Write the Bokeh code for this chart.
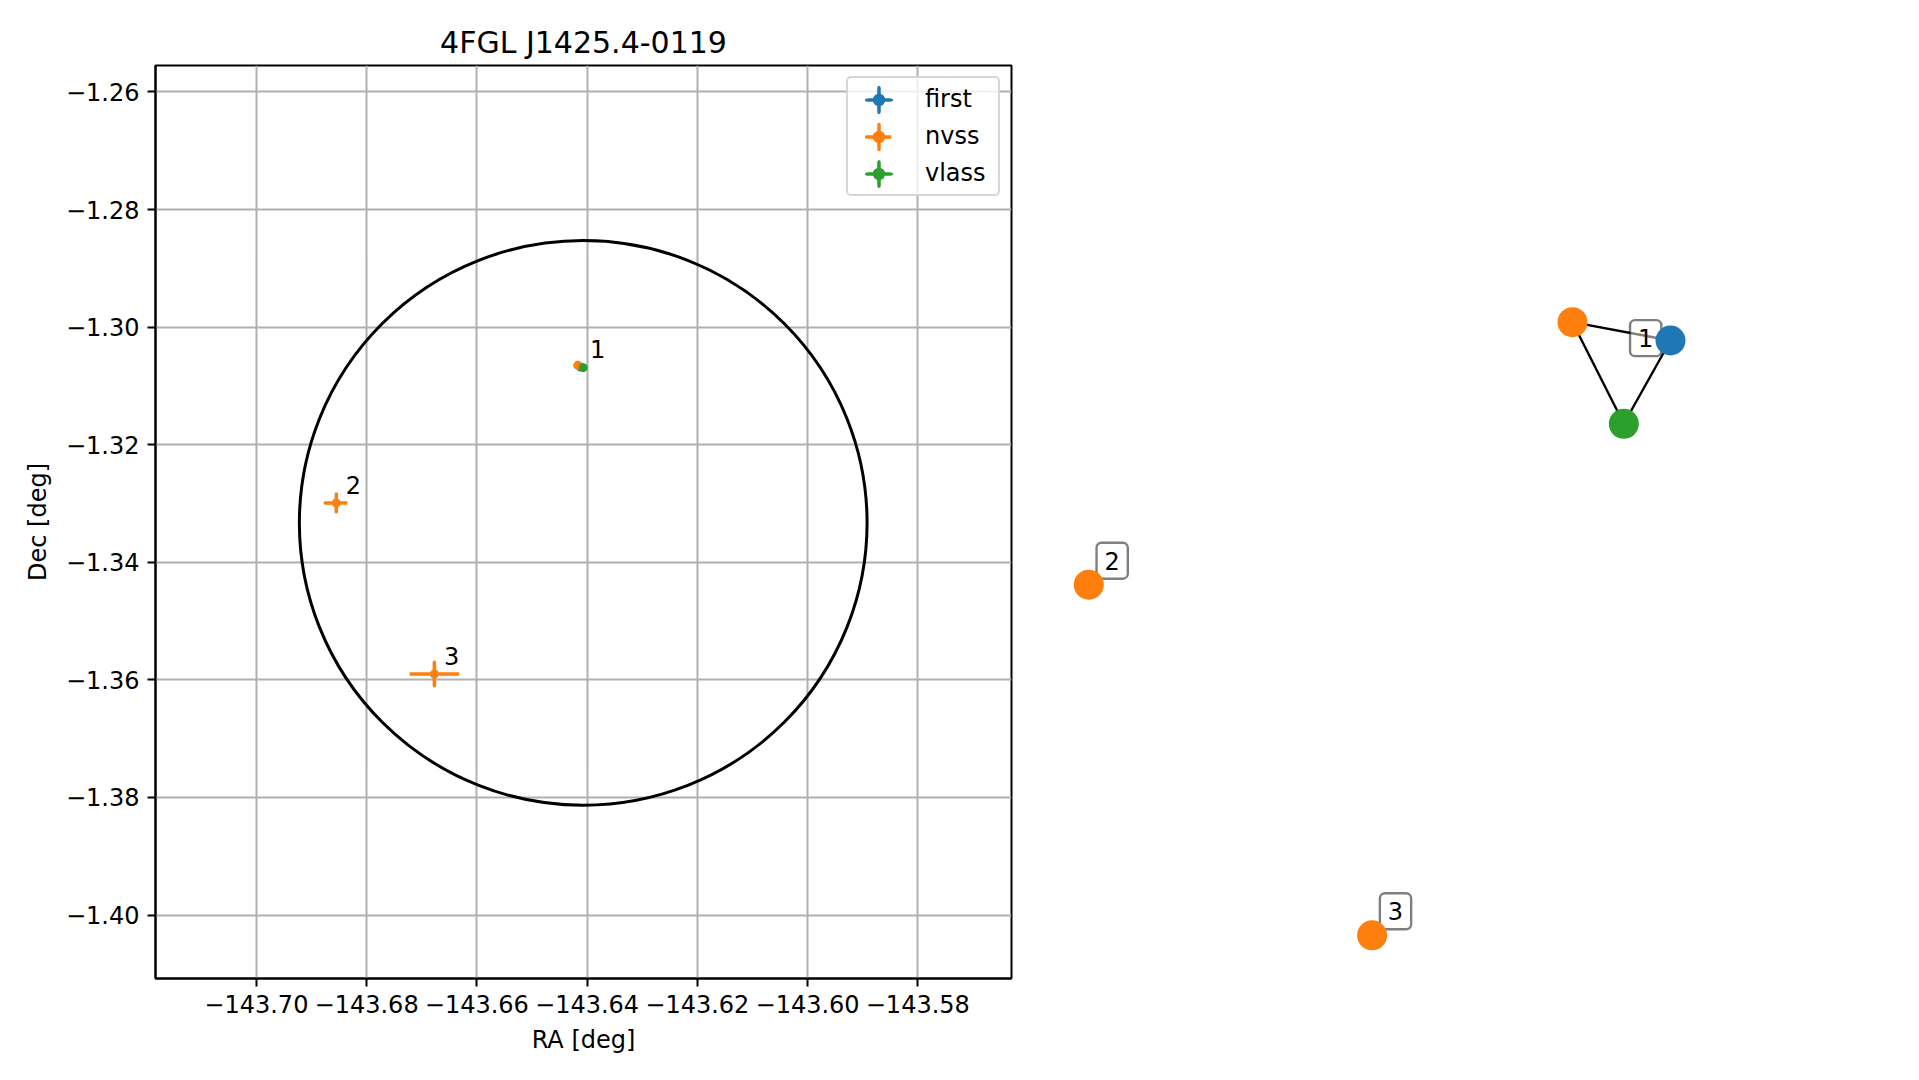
from bokeh.plotting import figure
from bokeh.models import Range1d, FixedTicker, CustomJSTickFormatter, Legend, LegendItem, ColumnDataSource
from bokeh.layouts import row
from bokeh.embed import file_html
from bokeh.resources import INLINE
from bokeh.core.properties import value

TITLE = "4FGL J1425.4-0119"
X_LABEL = "RA [deg]"
Y_LABEL = "Dec [deg]"

# 4FGL localisation ellipse (centre, full width / height in deg)
ell_ra = [-143.6407]
ell_dec = [-1.3333]
ell_width = [0.1030]
ell_height = [0.0961]

surveys = ["first", "nvss", "vlass"]

first_ra = [-143.6412]
first_dec = [-1.3068]
first_ra_err = [0.0003]
first_dec_err = [0.0003]
first_id = [1]

nvss_ra = [-143.6417, -143.6855, -143.6677]
nvss_dec = [-1.3065, -1.3299, -1.3590]
nvss_ra_err = [0.0006, 0.0020, 0.0045]
nvss_dec_err = [0.0005, 0.0015, 0.0020]
nvss_id = [1, 2, 3]

vlass_ra = [-143.6407]
vlass_dec = [-1.3069]
vlass_ra_err = [0.0002]
vlass_dec_err = [0.0002]
vlass_id = [1]

x_ticks = [-143.70, -143.68, -143.66, -143.64, -143.62, -143.60, -143.58]
y_ticks = [-1.40, -1.38, -1.36, -1.34, -1.32, -1.30, -1.28, -1.26]
x_limits = (-143.7183, -143.5630)
y_limits = (-1.4108, -1.2555)

# match graph (layout coordinates)
node_survey = ["first", "nvss", "nvss", "nvss", "vlass"]
node_id = [1, 1, 2, 3, 1]
node_x = [0.4975, 0.2525, -0.9568, -0.2485, 0.3808]
node_y = [0.5000, 0.5458, -0.1105, -0.9870, 0.2918]
edge_start = [1, 1, 0]
edge_end = [0, 4, 4]
graph_x_limits = (-1.1, 1.1)
graph_y_limits = (-1.095, 1.1875)

# ---------------- styles ----------------
FONT = "DejaVu Sans"
COLORS = {"first": "#1f77b4", "nvss": "#ff7f0e", "vlass": "#2ca02c"}
THIN = 2e-6  # degenerate axis for error-bar strokes

data = {
    "first": (first_ra, first_dec, first_ra_err, first_dec_err, first_id),
    "nvss": (nvss_ra, nvss_dec, nvss_ra_err, nvss_dec_err, nvss_id),
    "vlass": (vlass_ra, vlass_dec, vlass_ra_err, vlass_dec_err, vlass_id),
}

BORDER_TOP, BORDER_BOTTOM = 65, 100
FRAME_H = 913

p = figure(frame_width=856, frame_height=FRAME_H,
           x_range=Range1d(*x_limits), y_range=Range1d(*y_limits),
           output_backend="svg", toolbar_location=None, title=TITLE,
           min_border_left=155, min_border_top=BORDER_TOP,
           min_border_bottom=BORDER_BOTTOM, min_border_right=20)
p.background_fill_color = "white"
p.border_fill_color = "white"
p.outline_line_color = "black"
p.outline_line_width = 2

p.title.text_font = FONT
p.title.text_font_size = "30px"
p.title.text_font_style = "normal"
p.title.text_color = "black"
p.title.align = "center"
p.title.standoff = 12

fmt_code = "return tick.toFixed(2).replace('-', '\\u2212');"
p.xaxis.ticker = FixedTicker(ticks=x_ticks)
p.yaxis.ticker = FixedTicker(ticks=y_ticks)
p.xaxis.formatter = CustomJSTickFormatter(code=fmt_code)
p.yaxis.formatter = CustomJSTickFormatter(code=fmt_code)
p.xaxis.axis_label = X_LABEL
p.yaxis.axis_label = Y_LABEL
for ax in (p.xaxis, p.yaxis):
    ax.axis_label_text_font = FONT
    ax.axis_label_text_font_size = "24px"
    ax.axis_label_text_font_style = "normal"
    ax.axis_label_text_color = "black"
    ax.major_label_text_font = FONT
    ax.major_label_text_font_size = "24px"
    ax.major_label_text_color = "black"
    ax.major_tick_out = 8
    ax.major_tick_in = 0
    ax.minor_tick_out = 0
    ax.minor_tick_in = 0
    ax.major_tick_line_width = 2
    ax.major_tick_line_color = "black"
    ax.axis_line_width = 2
    ax.axis_line_color = "black"
p.xaxis.major_label_standoff = 8
p.xaxis.axis_label_standoff = 10
p.yaxis.major_label_standoff = 8
p.yaxis.axis_label_standoff = 11

p.grid.grid_line_color = "#b0b0b0"
p.grid.grid_line_width = 2

legend_items = []
label_x, label_y, label_t = [], [], []
for s in surveys:
    ra, dec, rerr, derr, ids = data[s]
    c = COLORS[s]
    src = ColumnDataSource(dict(x=ra, y=dec,
                                w=[2 * e for e in rerr], h=[2 * e for e in derr],
                                thin=[THIN] * len(ra)))
    rx = p.ellipse(x="x", y="y", width="w", height="thin", source=src,
                   fill_color=None, line_color=c, line_width=3.5)
    ry = p.ellipse(x="x", y="y", width="thin", height="h", source=src,
                   fill_color=None, line_color=c, line_width=3.5)
    rd = p.scatter(x="x", y="y", source=src, size=9, marker="circle",
                   fill_color=c, line_color=None)
    legend_items.append(LegendItem(label=s, renderers=[rx, ry, rd]))
    for xi, yi, i in zip(ra, dec, ids):
        if str(i) not in label_t:
            label_x.append(xi)
            label_y.append(yi)
            label_t.append(str(i))

p.ellipse(x=ell_ra, y=ell_dec, width=ell_width, height=ell_height,
          fill_color=None, line_color="black", line_width=3)

p.text(x=label_x, y=label_y, text=label_t, x_offset=9.5, y_offset=-18,
       text_font=value(FONT), text_font_size="24px", text_color="black",
       text_align="left", text_baseline="alphabetic")

legend = Legend(items=legend_items, location="top_right", margin=11, padding=3, spacing=1,
                glyph_width=55, glyph_height=31, label_height=36,
                label_standoff=19, label_width=70,
                label_text_font=FONT, label_text_font_size="24px", label_text_color="black",
                border_line_color="#cccccc", border_line_width=2, border_line_alpha=0.8,
                background_fill_color="white", background_fill_alpha=0.8)
try:
    legend.border_radius = 5
except Exception:
    pass
p.add_layout(legend)

# ---------------- match graph ----------------
g = figure(frame_width=880, frame_height=FRAME_H,
           x_range=Range1d(*graph_x_limits), y_range=Range1d(*graph_y_limits),
           x_axis_type=None, y_axis_type=None,
           output_backend="svg", toolbar_location=None,
           min_border_left=0, min_border_right=0,
           min_border_top=BORDER_TOP, min_border_bottom=BORDER_BOTTOM)
g.outline_line_color = None
g.grid.visible = False
g.background_fill_color = "white"
g.border_fill_color = "white"

g.segment(x0=[node_x[i] for i in edge_start], y0=[node_y[i] for i in edge_start],
          x1=[node_x[i] for i in edge_end], y1=[node_y[i] for i in edge_end],
          line_color="black", line_width=2.4)

groups = sorted(set(node_id))
gx = [sum(x for x, i in zip(node_x, node_id) if i == k) / node_id.count(k) for k in groups]
gy = [sum(y for y, i in zip(node_y, node_id) if i == k) / node_id.count(k) for k in groups]
g.text(x=gx, y=gy, text=[str(k) for k in groups], x_offset=23.4, y_offset=-24,
       text_font=value(FONT), text_font_size="24px", text_color="black",
       text_align="center", text_baseline="middle",
       background_fill_color="white", background_fill_alpha=0.5,
       border_line_color="black", border_line_alpha=0.5, border_line_width=2.4,
       border_radius=5, padding=dict(x=8, y=9))

g.scatter(x=node_x, y=node_y, size=30, marker="circle",
          fill_color=[COLORS[s] for s in node_survey], line_color=None)

layout = row(p, g)
open("out.html", "w", encoding="utf-8").write(file_html(layout, INLINE, title=TITLE))
